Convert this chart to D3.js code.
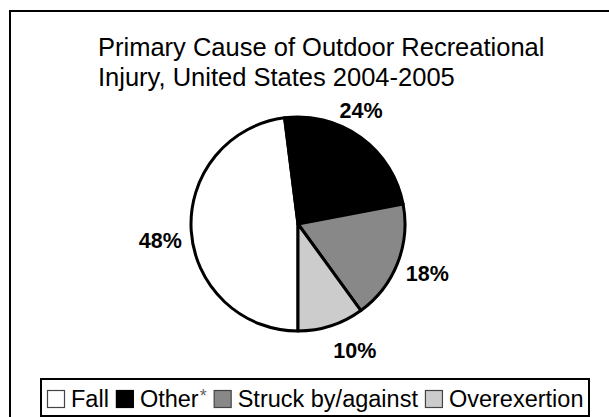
<!DOCTYPE html>
<html><head><meta charset="utf-8">
<script src="https://cdn.jsdelivr.net/npm/d3@7"></script>
<style>body{margin:0;background:#fff}svg{display:block}text{font-family:"Liberation Sans",Arial,sans-serif}</style>
</head><body>
<svg id="c" width="609" height="417"></svg>
<script>
const categories = ["Fall", "Other", "Struck by/against", "Overexertion"];
const values = [48, 24, 18, 10];
const labels = ["48%", "24%", "18%", "10%"];
const colors = ["#ffffff", "#000000", "#888888", "#cccccc"];
const titleLines = ["Primary Cause of Outdoor Recreational", "Injury, United States 2004-2005"];

const svg = d3.select("#c");
svg.append("rect").attr("x", 10).attr("y", 11).attr("width", 640).attr("height", 460)
  .attr("fill", "#fff").attr("stroke", "#000").attr("stroke-width", 2);

svg.append("g").selectAll("text").data(titleLines).join("text")
  .attr("x", 98).attr("y", (d, i) => 56 + i * 30)
  .attr("font-size", 25.5).attr("fill", "#000").text(d => d);

const cx = 298, cy = 224, r = 107;
const pie = d3.pie().sort(null).startAngle(Math.PI).endAngle(3 * Math.PI);
const arcs = pie(values);
const arc = d3.arc().innerRadius(0).outerRadius(r);
const g = svg.append("g").attr("transform", `translate(${cx},${cy})`);
g.selectAll("path").data(arcs).join("path")
  .attr("d", arc).attr("fill", (d, i) => colors[i])
  .attr("stroke", "#000").attr("stroke-width", 3).attr("stroke-linejoin", "round");

const labelR = [140, 138, 137, 132];
const labelAdj = [[2, 8], [-18, -1], [2, 0], [16, 1.5]];
g.selectAll("text.lab").data(arcs).join("text").attr("class", "lab")
  .attr("x", (d, i) => {
    const a = (d.startAngle + d.endAngle) / 2;
    return Math.sin(a) * labelR[i] + labelAdj[i][0];
  })
  .attr("y", (d, i) => {
    const a = (d.startAngle + d.endAngle) / 2;
    return -Math.cos(a) * labelR[i] + labelAdj[i][1];
  })
  .attr("text-anchor", "middle").attr("dominant-baseline", "central")
  .attr("font-size", 21.5).attr("font-weight", "bold").text((d, i) => labels[i]);

// legend
const lg = svg.append("g");
lg.append("rect").attr("x", 41).attr("y", 379).attr("width", 548).attr("height", 37)
  .attr("fill", "#fff").attr("stroke", "#000").attr("stroke-width", 2);
let x = 47;
categories.forEach((c, i) => {
  lg.append("rect").attr("x", x + 0.5).attr("y", 390.5).attr("width", 17).attr("height", 17)
    .attr("fill", colors[i]).attr("stroke", i === 1 ? "#000" : "#444").attr("stroke-width", 1.2);
  x += 24;
  const t = lg.append("text").attr("x", x).attr("y", 407).attr("font-size", 23.5).text(c);
  x += t.node().getComputedTextLength();
  if (i === 1) {
    const s = lg.append("text").attr("x", x + 1).attr("y", 402).attr("font-size", 18).attr("fill", "#666").text("*");
    x += s.node().getComputedTextLength() + 1;
  }
  x += 7;
});
</script>
</body></html>
